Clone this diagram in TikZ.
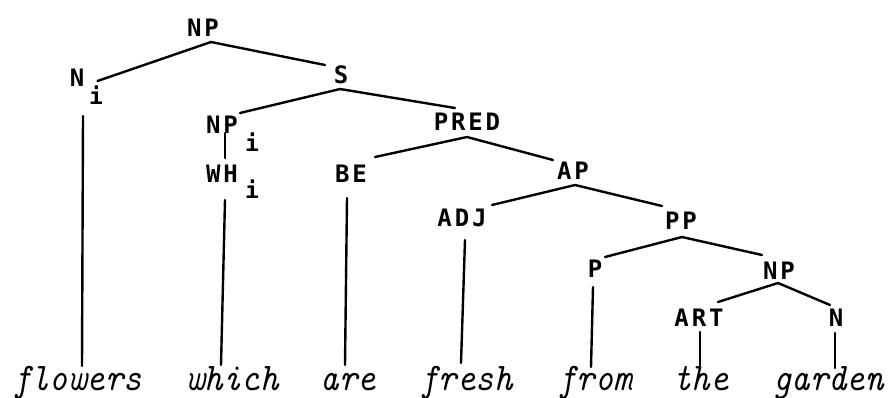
\documentclass[tikz,border=0pt]{standalone}
\usepackage{fontspec}
\newfontfamily\labfont[LetterSpace=12]{DejaVu Sans Mono Bold}
\newcommand\wtext[1]{\scalebox{1}[1.12]{#1}}
\begin{document}
\begin{tikzpicture}[x=1pt,y=-1pt,
  lab/.style={font=\labfont\fontsize{24}{24}\selectfont, inner sep=0pt},
  sub/.style={font=\labfont\fontsize{23}{23}\selectfont, inner sep=0pt},
  word/.style={font=\ttfamily\itshape\fontsize{35}{35}\selectfont\addfontfeatures{FakeBold=1.2}, inner sep=0pt, anchor=base},
  br/.style={line width=2.4pt, line cap=round}]
\useasboundingbox (0,0) rectangle (888,397);
% category labels
\node[lab] (npT)  at (203,27.5)  {NP};
\node[lab] (nU)   at (77,77.5)   {N};
\node[lab] (s)    at (341,74.5)  {S};
\node[lab] (npi)  at (222,124.5) {NP};
\node[lab] (wh)   at (222,173.5) {WH};
\node[lab] (pred) at (467,121.5) {PRED};
\node[lab] (be)   at (351,173.5) {BE};
\node[lab] (ap)   at (573,171)   {AP};
\node[lab] (adj)  at (462,217.5) {ADJ};
\node[lab] (pp)   at (681,220.5) {PP};
\node[lab] (p)    at (595,268.5) {P};
\node[lab] (npl)  at (779,271)   {NP};
\node[lab] (art)  at (699,317.5) {ART};
\node[lab] (nl)   at (836,317.5) {N};
% index subscripts
\node[sub] (iN)  at (96,95.5)  {i};
\node[sub] (iNP) at (252,142.5) {i};
\node[sub] (iWH) at (252,189)  {i};
% words
\node[word] (flowers) at (77.5,390) {\wtext{flowers}};
\node[word] (which)   at (232.5,390) {\wtext{which}};
\node[word] (are)     at (348.5,390) {\wtext{are}};
\node[word] (fresh)   at (466.5,390) {\wtext{fresh}};
\node[word] (from)    at (595,390) {\wtext{from}};
\node[word] (the)     at (701,390) {\wtext{the}};
\node[word] (garden)  at (828.5,390) {\wtext{garden}};
% branches
\draw[br] ([shift={(20.5,3.5)}]nU.center) -- ([shift={(8,14.5)}]npT.center) -- ([shift={(-16,-9.5)}]s.center);
\draw[br] ([shift={(18,-11.5)}]npi.center) -- ([shift={(-1,14.5)}]s.center) -- ([shift={(-12,-13.5)}]pred.center);
\draw[br] ([shift={(3,8.5)}]npi.center) -- ([shift={(3,-15.5)}]wh.center);
\draw[br] ([shift={(24,-16.5)}]be.center) -- ([shift={(0,15.5)}]pred.center) -- ([shift={(-20,-11)}]ap.center);
\draw[br] ([shift={(30,-12.5)}]adj.center) -- ([shift={(2,14)}]ap.center) -- ([shift={(-19,-14.5)}]pp.center);
\draw[br] ([shift={(10,-11.5)}]p.center) -- ([shift={(1,16.5)}]pp.center) -- ([shift={(-17,-16)}]npl.center);
\draw[br] ([shift={(19,-15.5)}]art.center) -- ([shift={(-1,12)}]npl.center) -- ([shift={(-6,-12.5)}]nl.center);
% lines to words
\draw[br] ([shift={(6,38.5)}]nU.center) -- ([shift={(4.5,-24)}]flowers.base);
\draw[br] ([shift={(3,26.5)}]wh.center) -- ([shift={(-11.5,-25)}]which.base);
\draw[br] ([shift={(-4,24.5)}]be.center) -- ([shift={(-3.5,-25)}]are.base);
\draw[br] ([shift={(3,22.5)}]adj.center) -- ([shift={(-5.5,-27)}]fresh.base);
\draw[br] ([shift={(-2,18.5)}]p.center) -- ([shift={(-4,-23)}]from.base);
\draw[br] ([shift={(1,14.5)}]art.center) -- ([shift={(-1,-24)}]the.base);
\draw[br] ([shift={(-1,15.5)}]nl.center) -- ([shift={(6.5,-22)}]garden.base);
\end{tikzpicture}
\end{document}
